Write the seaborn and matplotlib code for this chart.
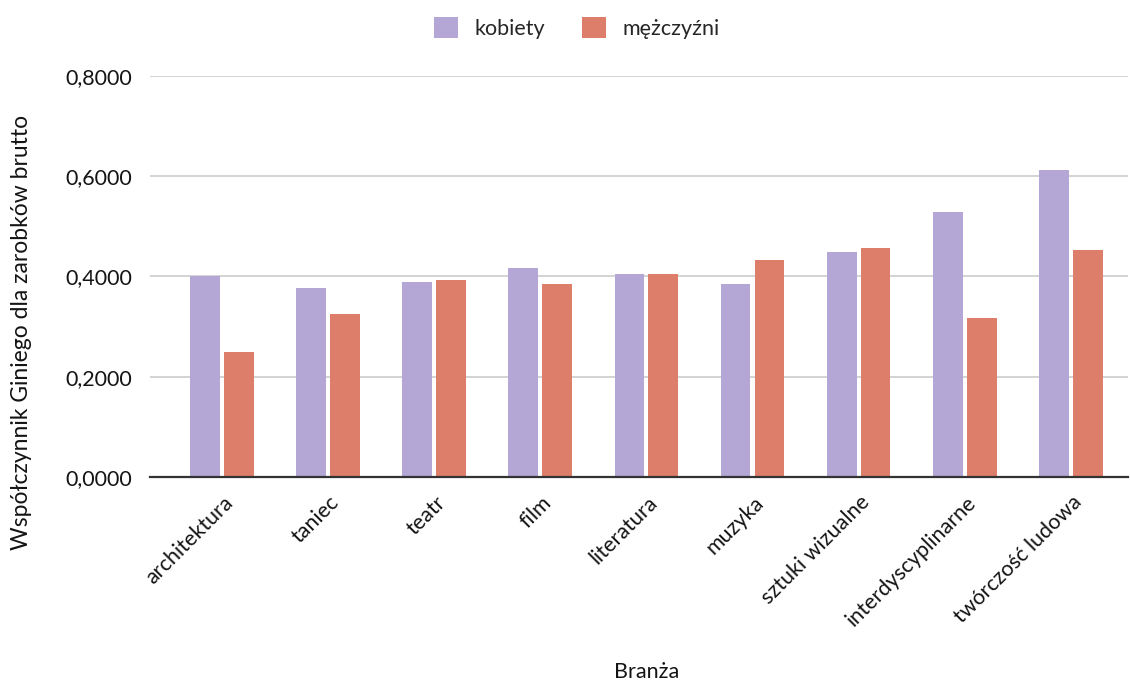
import matplotlib
matplotlib.use("Agg")
import matplotlib.pyplot as plt
import matplotlib.transforms as mtransforms
from matplotlib.patches import Patch
import seaborn as sns
import pandas as pd

# Gini coefficient of gross earnings by sector and sex
sectors = ["architektura", "taniec", "teatr", "film", "literatura", "muzyka",
           "sztuki wizualne", "interdyscyplinarne", "twórczość ludowa"]
women = [0.401, 0.377, 0.388, 0.417, 0.405, 0.385, 0.449, 0.528, 0.612]
men = [0.249, 0.324, 0.393, 0.385, 0.405, 0.433, 0.457, 0.316, 0.453]
series_names = ["kobiety", "mężczyźni"]
yticks = [0.0, 0.2, 0.4, 0.6, 0.8]

colors = {"kobiety": "#B4A7D6", "mężczyźni": "#DD7E6B"}

df = pd.DataFrame({
    "Branża": sectors * 2,
    "Gini": women + men,
    "Płeć": [series_names[0]] * len(sectors) + [series_names[1]] * len(sectors),
})

sns.set_theme(style="white")
plt.rcParams["font.family"] = ["Lato", "DejaVu Sans"]
FS = 15.5
TXT = "#141414"

fig = plt.figure(figsize=(11.3, 6.82), dpi=100)
ax = fig.add_axes([150 / 1130, 1 - 477 / 682, (1128 - 150) / 1130, (477 - 75.7) / 682])

sns.barplot(data=df, x="Branża", y="Gini", hue="Płeć", palette=colors,
            width=0.64, gap=0.12, saturation=1, linewidth=0, ax=ax, legend=False)

ax.set_ylim(0, 0.8)
ax.set_xlim(-0.68, 8.54)
ax.set_yticks(yticks)
ax.set_yticklabels([f"{v:.4f}".replace(".", ",") for v in yticks], fontsize=FS, color=TXT)
ax.yaxis.grid(True, color="#cccccc", linewidth=1.2)
ax.set_axisbelow(True)
for side in ["top", "right", "left"]:
    ax.spines[side].set_visible(False)
ax.spines["bottom"].set_color("#333333")
ax.spines["bottom"].set_linewidth(1.6)
ax.tick_params(axis="y", length=0, pad=13)
ax.tick_params(axis="x", length=0, pad=11)

ax.set_xticks(range(len(sectors)))
ax.set_xticklabels(sectors, rotation=45, ha="right", rotation_mode="anchor",
                   fontsize=FS, color=TXT)
offset = mtransforms.ScaledTranslation(1 / 100, 0, fig.dpi_scale_trans)
for lbl in ax.get_xticklabels():
    lbl.set_transform(lbl.get_transform() + offset)

ax.set_xlabel("")
ax.set_ylabel("")
fig.text(22 / 1130, 1 - 332 / 682, "Współczynnik Giniego dla zarobków brutto",
         rotation=90, ha="center", va="center", fontsize=16.5, color=TXT)
fig.text(647 / 1130, 1 - 672 / 682, "Branża", ha="center", va="center",
         fontsize=FS, color=TXT)

handles = [Patch(facecolor=colors[n], edgecolor="none", label=n) for n in series_names]
fig.legend(handles=handles, loc="center", bbox_to_anchor=(577 / 1130, 1 - 28 / 682),
           ncol=2, frameon=False, fontsize=FS, handlelength=1.1, handleheight=1.1,
           handletextpad=0.8, columnspacing=1.7)

fig.savefig("out.png", dpi=100)
